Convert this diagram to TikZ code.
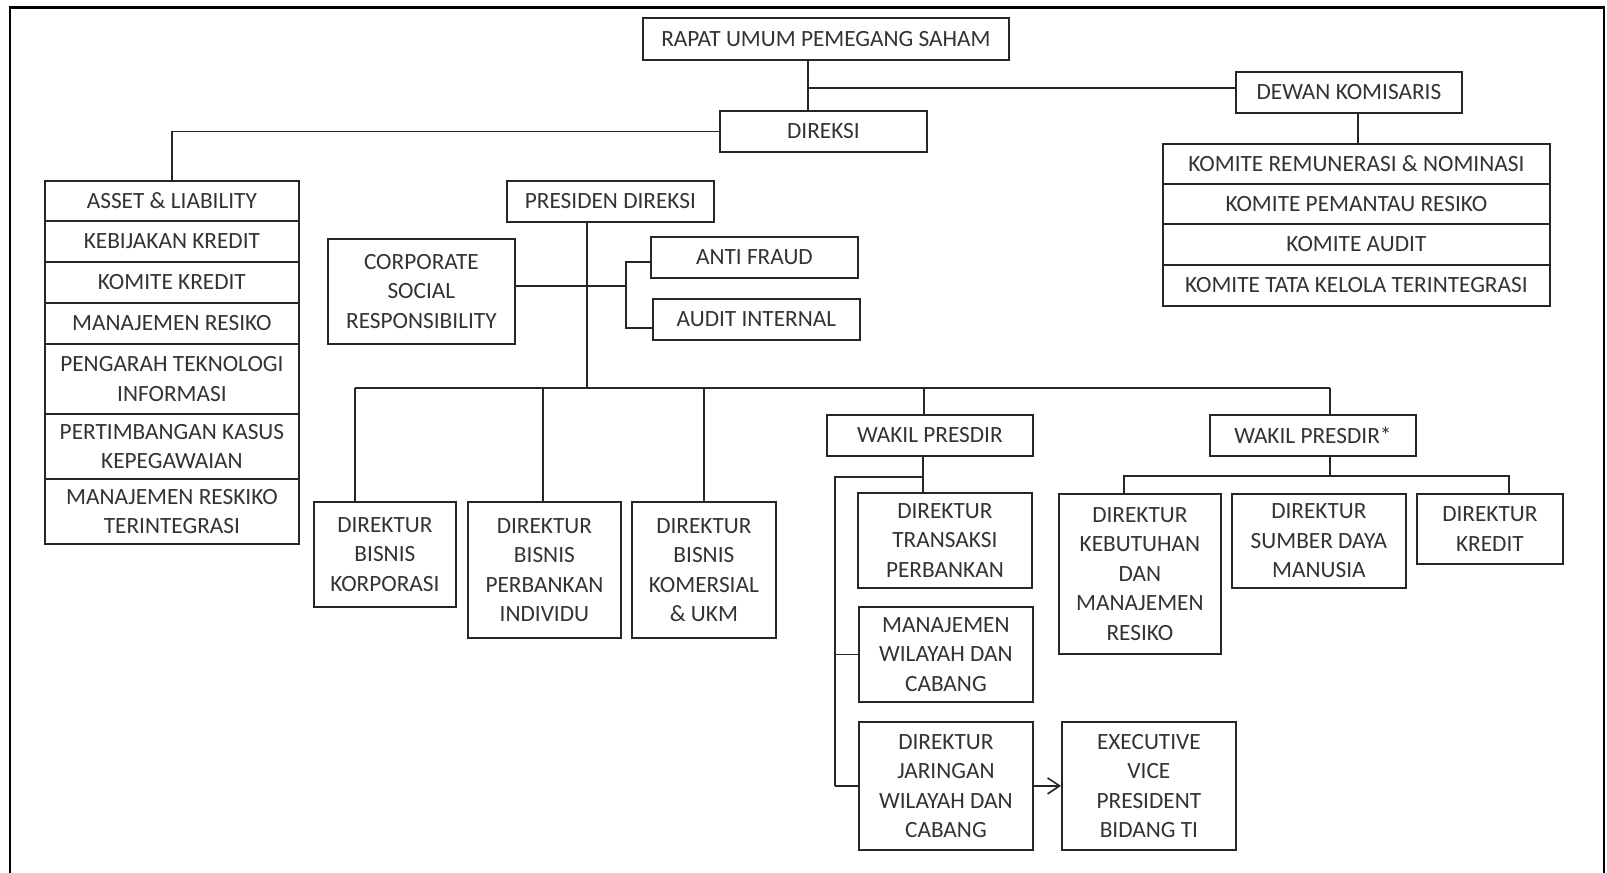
\documentclass[tikz,border=0pt]{standalone}
\usepackage{fontspec}
\setmainfont{Carlito}
\usetikzlibrary{arrows.meta}
\definecolor{ink}{HTML}{262626}
\definecolor{txt}{HTML}{333333}
\tikzset{
  box/.style={draw=ink, line width=1.8pt, inner sep=0pt, align=center, text=txt,
    font=\fontsize{23.3pt}{29.5pt}\selectfont, anchor=north west},
  link/.style={draw=ink, line width=1.8pt},
}
\begin{document}
\begin{tikzpicture}[x=1pt,y=-1pt]
\useasboundingbox (0,0) rectangle (1607,873);
\fill[white] (0,0) rectangle (1607,873);
% frame
\draw[line width=2.5pt, black] (10,873) -- (10,7.5) -- (1604,7.5) -- (1604,873);

% top level
\node[box, minimum width=366pt, minimum height=42pt] (rups) at (642,17) {RAPAT UMUM PEMEGANG SAHAM};
\node[box, minimum width=207pt, minimum height=41pt] (direksi) at (719,110) {DIREKSI};
\node[box, minimum width=226pt, minimum height=41pt] (dewan) at (1235,71) {DEWAN KOMISARIS};

% komite stack
\node[box, minimum width=387pt, minimum height=40pt] (km1) at (1162,143) {KOMITE REMUNERASI \& NOMINASI};
\node[box, minimum width=387pt, minimum height=40pt] (km2) at (1162,183) {KOMITE PEMANTAU RESIKO};
\node[box, minimum width=387pt, minimum height=41pt] (km3) at (1162,223) {KOMITE AUDIT};
\node[box, minimum width=387pt, minimum height=41pt] (km4) at (1162,264) {KOMITE TATA KELOLA TERINTEGRASI};

% left stack
\node[box, minimum width=254pt, minimum height=40pt] (as1) at (44,180) {ASSET \& LIABILITY};
\node[box, minimum width=254pt, minimum height=41pt] (as2) at (44,220) {KEBIJAKAN KREDIT};
\node[box, minimum width=254pt, minimum height=41pt] (as3) at (44,261) {KOMITE KREDIT};
\node[box, minimum width=254pt, minimum height=41pt] (as4) at (44,302) {MANAJEMEN RESIKO};
\node[box, minimum width=254pt, minimum height=70pt] (as5) at (44,343) {PENGARAH TEKNOLOGI\\INFORMASI};
\node[box, minimum width=254pt, minimum height=65pt] (as6) at (44,413) {PERTIMBANGAN KASUS\\KEPEGAWAIAN};
\node[box, minimum width=254pt, minimum height=65pt] (as7) at (44,478) {MANAJEMEN RESKIKO\\TERINTEGRASI};

% president level
\node[box, minimum width=207pt, minimum height=41pt] (pres) at (506,180) {PRESIDEN DIREKSI};
\node[box, minimum width=187pt, minimum height=105pt] (csr) at (327,238) {CORPORATE\\SOCIAL\\RESPONSIBILITY};
\node[box, minimum width=207pt, minimum height=41pt] (af) at (650,236) {ANTI FRAUD};
\node[box, minimum width=207pt, minimum height=41pt] (ai) at (652,298) {AUDIT INTERNAL};

% directors
\node[box, minimum width=142pt, minimum height=105pt] (korp) at (313,501) {DIREKTUR\\BISNIS\\KORPORASI};
\node[box, minimum width=153pt, minimum height=136pt] (indiv) at (467,501) {DIREKTUR\\BISNIS\\PERBANKAN\\INDIVIDU};
\node[box, minimum width=144pt, minimum height=136pt] (kom) at (631,501) {DIREKTUR\\BISNIS\\KOMERSIAL\\\& UKM};

\node[box, minimum width=206pt, minimum height=41pt] (wakil) at (826,414) {WAKIL PRESDIR};
\node[box, minimum width=174pt, minimum height=95pt] (trans) at (857,492) {DIREKTUR\\TRANSAKSI\\PERBANKAN};
\node[box, minimum width=174pt, minimum height=95pt] (manaj) at (858,606) {MANAJEMEN\\WILAYAH DAN\\CABANG};
\node[box, minimum width=174pt, minimum height=128pt] (jar) at (858,721) {DIREKTUR\\JARINGAN\\WILAYAH DAN\\CABANG};
\node[box, minimum width=174pt, minimum height=128pt] (exe) at (1061,721) {EXECUTIVE\\VICE\\PRESIDENT\\BIDANG TI};

\node[box, minimum width=206pt, minimum height=41pt] (wakil2) at (1209,414) {WAKIL PRESDIR*};
\node[box, minimum width=162pt, minimum height=160pt] (keb) at (1058,493) {DIREKTUR\\KEBUTUHAN\\DAN\\MANAJEMEN\\RESIKO};
\node[box, minimum width=174pt, minimum height=94pt] (sdm) at (1231,493) {DIREKTUR\\SUMBER DAYA\\MANUSIA};
\node[box, minimum width=146pt, minimum height=70pt] (kred) at (1416,493) {DIREKTUR\\KREDIT};

% connectors
\coordinate (cR) at (808,88);
\draw[link] (rups.south -| cR) -- (direksi.north -| cR);
\draw[link] (cR) -- (cR -| dewan.west);
\draw[link] (direksi.west) -| (as1.north);
\coordinate (cD) at (1358,0);
\draw[link] (dewan.south -| cD) -- (km1.north -| cD);

\coordinate (cP) at (587,388);
\draw[link] (pres.south -| cP) -- (cP);
\coordinate (bL) at (355,388);
\coordinate (bR) at (1330,388);
\draw[link] (bL) -- (bR);
\draw[link] (bL) -- (bL |- korp.north);
\coordinate (bI) at (543,388);
\draw[link] (bI) -- (bI |- indiv.north);
\draw[link] (kom.north |- bL) -- (kom.north);
\coordinate (bW) at (924,388);
\draw[link] (bW) -- (bW |- wakil.north);
\draw[link] (bR) -- (bR |- wakil2.north);

% CSR / anti fraud / audit bracket
\coordinate (cB) at (626,286);
\coordinate (cB1) at (626,262);
\coordinate (cB2) at (626,328);
\draw[link] (csr.east |- cB) -- (cB);
\draw[link] (af.west |- cB1) -- (cB1) -- (cB2) -- (ai.west |- cB2);

% wakil presdir branch
\coordinate (w1) at (923,477);
\coordinate (rail) at (835,477);
\draw[link] (wakil.south -| w1) -- (trans.north -| w1);
\draw[link] (w1) -- (rail) -- (rail |- jar.west);
\draw[link] (rail |- manaj.west) -- (manaj.west);
\draw[link] (rail |- jar.west) -- (jar.west);
\draw[link, -{Straight Barb[length=12pt,width=16pt,line width=1.6pt]}] (jar.east) -- (exe.west);

% wakil presdir* branch
\coordinate (v1) at (1330,476);
\coordinate (vL) at (1124,476);
\coordinate (vR) at (1509,476);
\draw[link] (wakil2.south -| v1) -- (v1);
\draw[link] (vL |- keb.north) -- (vL) -- (vR) -- (vR |- kred.north);
\end{tikzpicture}
\end{document}
